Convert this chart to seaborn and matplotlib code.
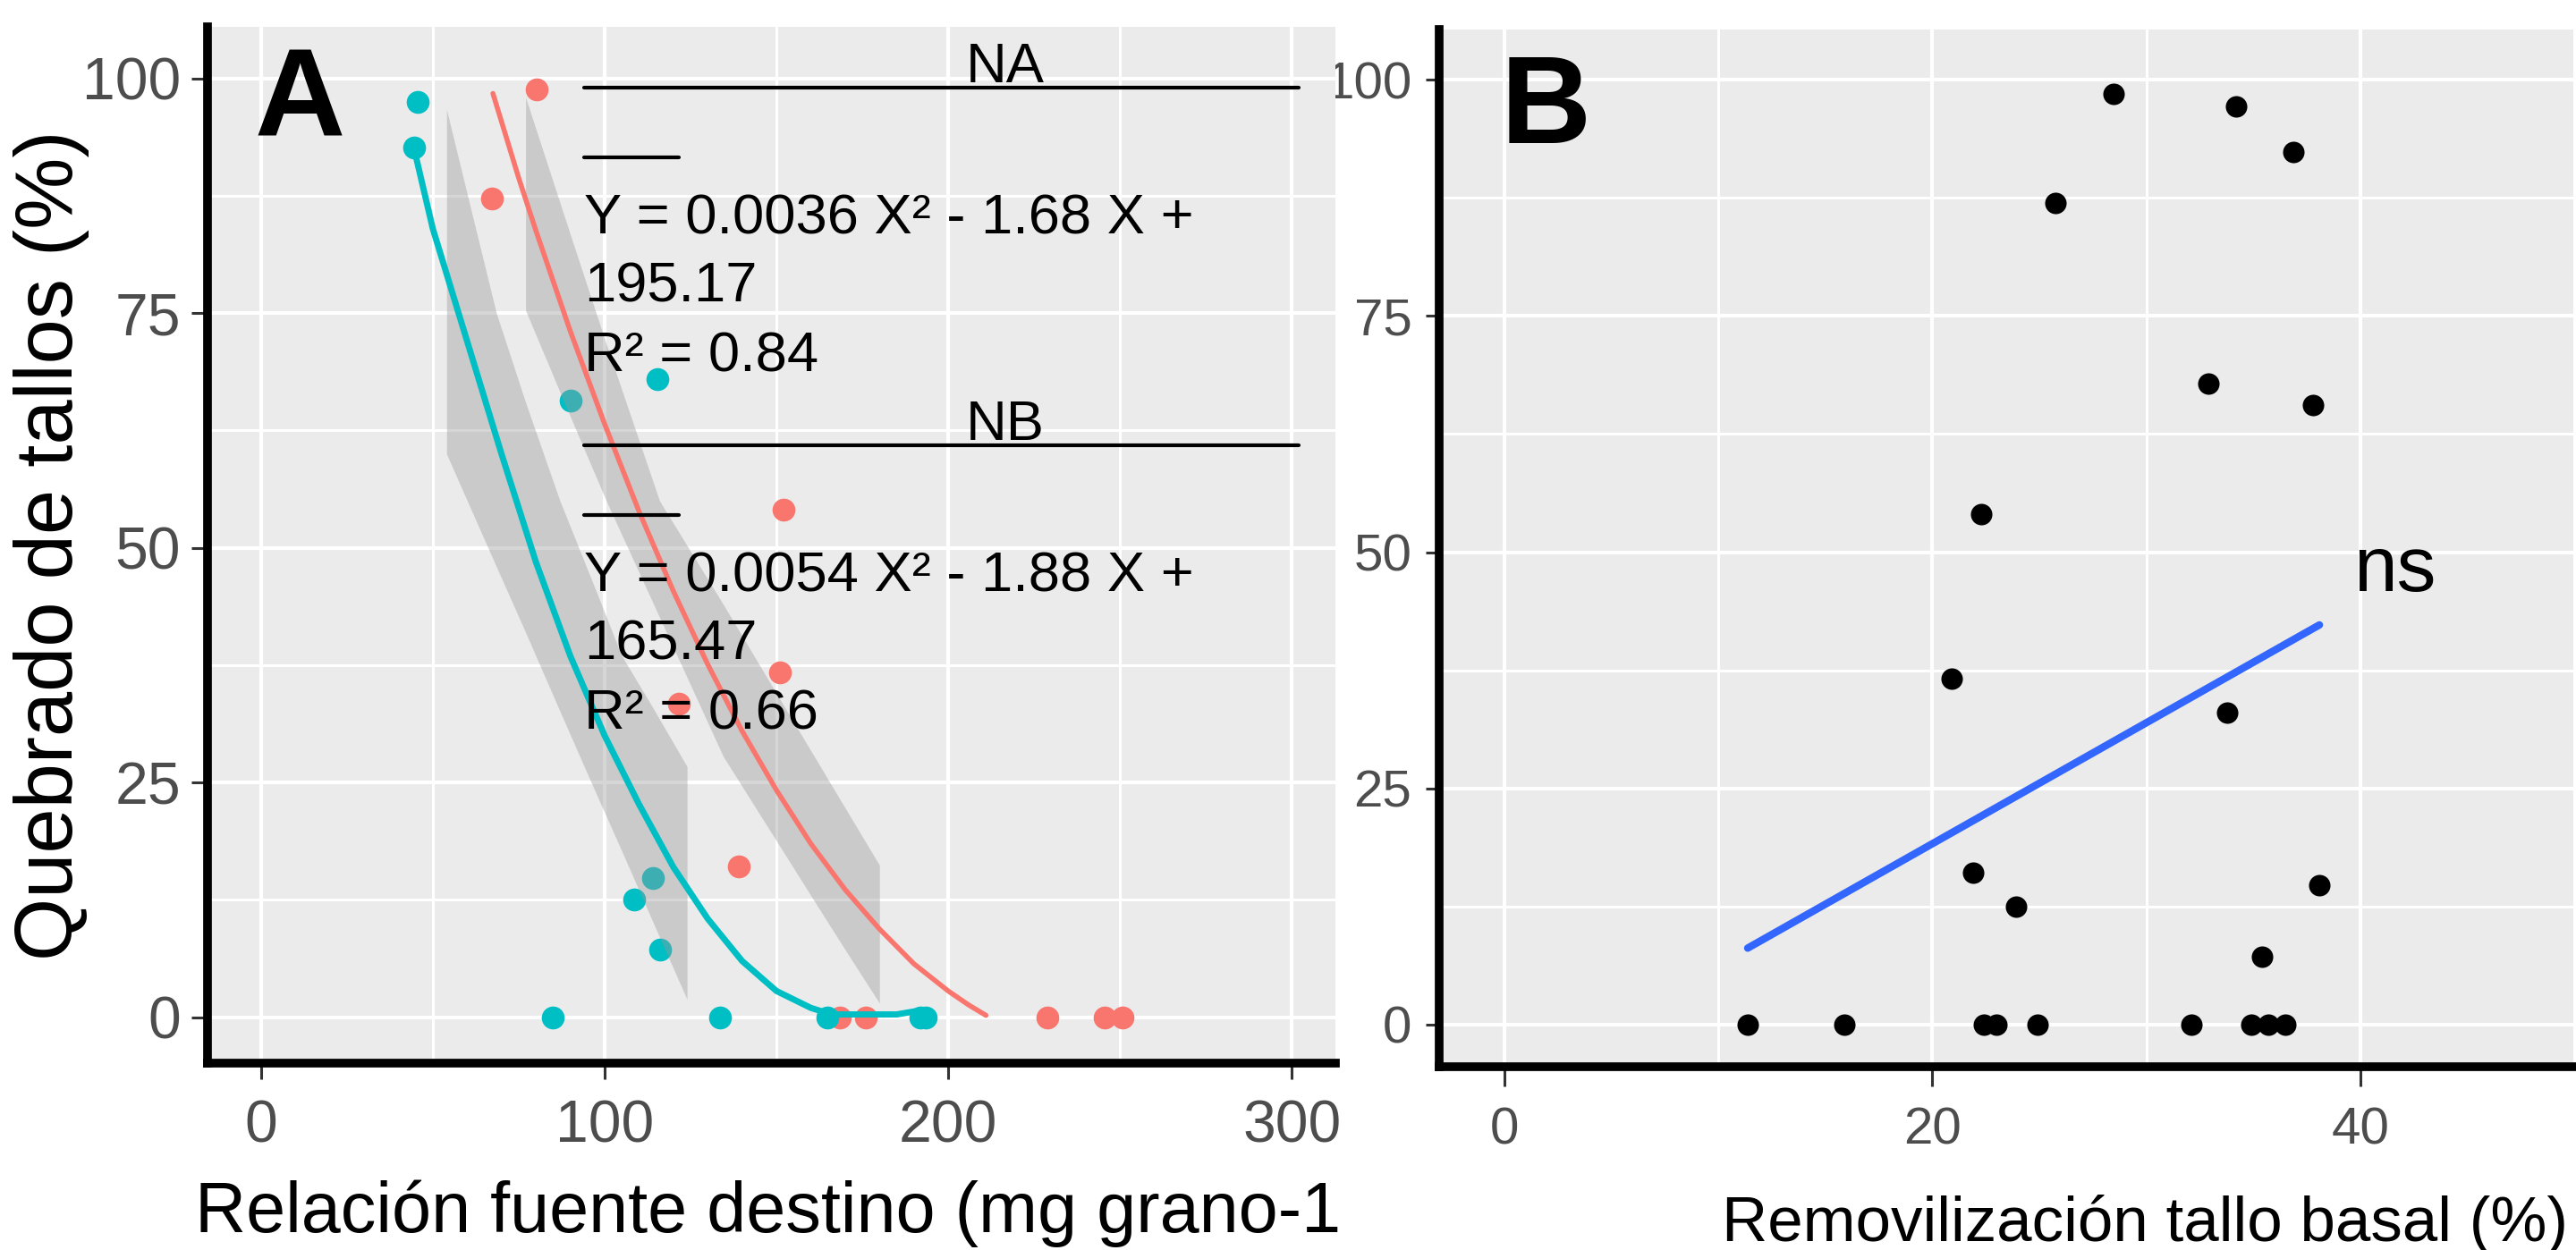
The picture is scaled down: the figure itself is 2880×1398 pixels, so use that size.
import numpy as np
import pandas as pd
import matplotlib
matplotlib.use("Agg")
import matplotlib.pyplot as plt
from matplotlib.lines import Line2D
from matplotlib import font_manager
import seaborn as sns

# ---------------- data: panel A ----------------
na_x = [80.3, 67.3, 152.2, 151.0, 121.6, 139.0, 168.5, 176.0, 228.8, 245.6, 250.8]
na_y = [98.8, 87.2, 54.1, 36.7, 33.4, 16.1, 0, 0, 0, 0, 0]
nb_x = [45.5, 44.5, 115.3, 90.1, 114.0, 108.6, 116.1, 84.8, 133.7, 164.8, 192.0, 193.5]
nb_y = [97.5, 92.6, 68.0, 65.7, 14.8, 12.5, 7.2, 0, 0, 0, 0, 0]

# fitted curves
na_fit_x = [67.5, 75, 80, 90, 100, 110, 120, 130, 140, 150, 160, 170, 180, 190, 200, 206, 211]
na_fit_y = [98.4, 89.4, 83.8, 73.1, 63.2, 53.9, 45.4, 37.6, 30.5, 24.2, 18.5, 13.6, 9.4, 5.7, 2.8, 1.3, 0.2]
nb_fit_x = [44.5, 50, 60, 70, 80, 90, 100, 110, 120, 130, 140, 150, 160, 166, 175, 185, 193]
nb_fit_y = [92.6, 84, 72, 60, 48.5, 38.5, 30, 22.7, 16, 10.5, 6, 2.8, 1, 0.3, 0.3, 0.3, 0.8]

# grey bands
na_band_x = [77, 90, 100.5, 116, 134.5, 150, 161, 170, 180]
na_band_lo = [75.3, 64, 55, 42.6, 27.8, 18.8, 12.4, 7.2, 1.5]
na_band_hi = [98, 83.4, 71.7, 55, 44, 34.5, 27.8, 22.3, 16.2]
nb_band_x = [54, 61, 68.5, 77, 87, 96, 105, 114, 124]
nb_band_lo = [60, 54.2, 48, 41, 32.6, 25.1, 17.7, 10.2, 1.9]
nb_band_hi = [96.7, 86.2, 75, 65.5, 55, 46.8, 38.5, 33, 26.7]

# ---------------- data: panel B ----------------
rem_x = [28.46, 34.2, 36.9, 25.76, 32.9, 37.8, 22.27, 20.9, 33.8, 21.9, 23.9, 35.4, 38.1,
         11.36, 15.9, 22.4, 23.0, 24.9, 32.1, 34.9, 35.7, 36.5]
rem_y = [98.5, 97.2, 92.3, 86.9, 67.8, 65.6, 54.0, 36.6, 33.0, 16.1, 12.5, 7.15, 14.8,
         0, 0, 0, 0, 0, 0, 0, 0, 0]
trend_x = [11.36, 38.1]
trend_y = [8.1, 42.3]

# tick labels
a_xticks = [0, 100, 200, 300]
b_xticks = [0, 20, 40]
yticks = [0, 25, 50, 75, 100]

RED, TEAL, BLUE = "#F8766D", "#00BFC4", "#3366FF"

sns.set_theme(style="darkgrid")
plt.rcParams["font.family"] = ["Liberation Sans", "DejaVu Sans"]
names = {f.name for f in font_manager.fontManager.ttflist}
has_narrow = "Liberation Sans Narrow" in names
NARROW = (["Liberation Sans Narrow", "Liberation Sans", "DejaVu Sans"] if has_narrow
          else ["Liberation Sans", "DejaVu Sans"])

W, H = 2880, 1398
fig = plt.figure(figsize=(W / 100, H / 100), dpi=100)
fig.patch.set_facecolor("white")

def frac_box(l, t, r, b):
    return [l / W, 1 - b / H, (r - l) / W, (b - t) / H]

# panel B first so that panel A is drawn on top of it
axB = fig.add_axes(frac_box(1609, 33, 2880, 1192.5))
axA = fig.add_axes(frac_box(231.5, 30, 1493, 1188.5))

def style(ax, major, minor, tsize, fam, pady, padx, tl_y, tl_x):
    ax.set_facecolor("#EBEBEB")
    ax.set_xticks(major)
    ax.set_xticks(minor, minor=True)
    ax.set_yticks(yticks)
    ax.set_yticks([12.5, 37.5, 62.5, 87.5], minor=True)
    ax.grid(which="major", color="white", linewidth=3.0)
    ax.grid(which="minor", color="white", linewidth=2.2)
    ax.set_axisbelow(True)
    for s in ["top", "right"]:
        ax.spines[s].set_visible(False)
    for s in ["left", "bottom"]:
        ax.spines[s].set_visible(True)
        ax.spines[s].set_color("black")
        ax.spines[s].set_linewidth(7)
    ax.tick_params(which="minor", length=0)
    ax.tick_params(axis="y", which="major", length=tl_y, width=2.2, color="#333333",
                   labelcolor="#4D4D4D", labelsize=tsize, pad=pady, left=True)
    ax.tick_params(axis="x", which="major", length=tl_x, width=2.2, color="#333333",
                   labelcolor="#4D4D4D", labelsize=tsize, pad=padx, bottom=True)
    for lab in ax.get_xticklabels() + ax.get_yticklabels():
        lab.set_family(fam)

# ---------------- panel A ----------------
axA.fill_between(na_band_x, na_band_lo, na_band_hi, color="#999999", alpha=0.4, lw=0, zorder=1)
axA.fill_between(nb_band_x, nb_band_lo, nb_band_hi, color="#999999", alpha=0.4, lw=0, zorder=1)
sns.scatterplot(x=na_x, y=na_y, ax=axA, color=RED, s=340, linewidth=0, zorder=0.8)
sns.scatterplot(x=nb_x, y=nb_y, ax=axA, color=TEAL, s=340, linewidth=0, zorder=0.8)
sns.lineplot(x=na_fit_x, y=na_fit_y, ax=axA, color=RED, linewidth=4.0, estimator=None, zorder=2)
sns.lineplot(x=nb_fit_x, y=nb_fit_y, ax=axA, color=TEAL, linewidth=5.0, estimator=None, zorder=2)
axA.set_xlim(-15.7, 312.7)
axA.set_ylim(-4.84, 105.5)
style(axA, a_xticks, [50, 150, 250], 47.5, ["Liberation Sans", "DejaVu Sans"], 8, 17, 13.3, 12.6)
axA.set_xticklabels([str(v) for v in a_xticks])
axA.set_yticklabels([str(v) for v in yticks])
axA.set_xlabel("Relación fuente destino (mg grano-1", fontsize=57, color="black")
axA.xaxis.set_label_coords((218 - 231.5) / (1493 - 231.5), (1188.5 - 1378) / (1188.5 - 30))
axA.xaxis.label.set_ha("left")
axA.xaxis.label.set_va("baseline")
axA.set_ylabel("Quebrado de tallos (%)", fontsize=65, color="black")
axA.yaxis.set_label_coords((57 - 231.5) / (1493 - 231.5), (1188.5 - 610) / (1188.5 - 30))
axA.yaxis.label.set_va("center")
axA.yaxis.label.set_ha("center")

# ---------------- panel B ----------------
sns.scatterplot(x=rem_x, y=rem_y, ax=axB, color="black", s=300, linewidth=0, zorder=2)
sns.lineplot(x=trend_x, y=trend_y, ax=axB, color=BLUE, linewidth=6, estimator=None, zorder=3)
axB.set_xlim(-3.07, 50.1)
axB.set_ylim(-4.4, 105.3)
bsize = 50 if has_narrow else 42
style(axB, b_xticks, [10, 30, 50], bsize, NARROW, 11, 16.5, 11, 16)
axB.set_xticklabels([str(v) for v in b_xticks])
axB.set_yticklabels([str(v) for v in yticks])
axB.set_xlabel("Removilización tallo basal (%)", fontsize=61 if has_narrow else 51,
               color="black", family=NARROW)
axB.xaxis.set_label_coords((1925 - 1609) / (2880 - 1609), (1192.5 - 1388) / (1192.5 - 33))
axB.xaxis.label.set_ha("left")
axB.xaxis.label.set_va("baseline")
axB.set_ylabel("")

# ---------------- annotations ----------------
def ft(x, y, s, **kw):
    fig.text(x / W, 1 - y / H, s, **kw)

def hline(x0, x1, y, lw=3):
    fig.add_artist(Line2D([x0 / W, x1 / W], [1 - y / H, 1 - y / H], color="black", lw=lw))

ft(285, 152, "A", fontsize=101, fontweight="bold", ha="left", va="baseline", color="black")
ft(1678, 160, "B", fontsize=101, fontweight="bold", ha="left", va="baseline", color="black")
ft(2631, 661, "ns", fontsize=63, ha="left", va="baseline", color="black")

eq = dict(fontsize=45.5, ha="left", va="baseline", color="black", zorder=10)
for dy, title, l1, l2, l3 in [(0, "NA", "Y = 0.0036 X\u00b2 - 1.68 X +", "195.17", "R\u00b2 = 0.84"),
                              (400, "NB", "Y = 0.0054 X\u00b2 - 1.88 X +", "165.47", "R\u00b2 = 0.66")]:
    hline(653, 1452, 98 + dy)
    ft(1124, 92 + dy, title, fontsize=45.5, ha="center", va="baseline", color="black")
    hline(653, 759, 176 + dy)
    ft(653, 261 + dy, l1, **eq)
    ft(653, 338 + dy, l2, **eq)
    ft(653, 415 + dy, l3, **eq)

fig.savefig("out.png", dpi=100)
